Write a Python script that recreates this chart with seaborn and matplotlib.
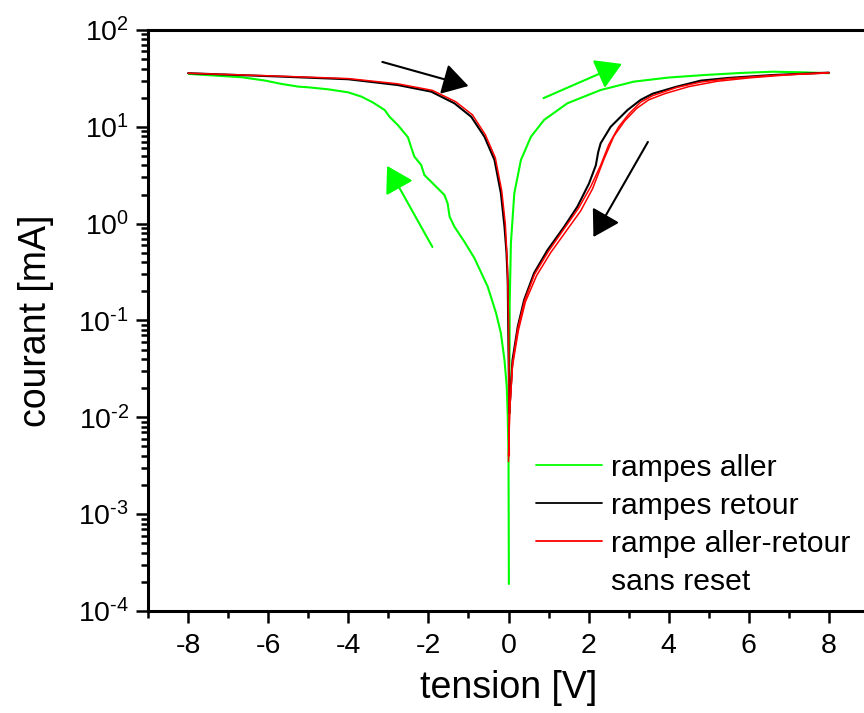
import matplotlib
matplotlib.use("Agg")
import matplotlib.pyplot as plt
import matplotlib.ticker as mticker
from matplotlib.lines import Line2D
import numpy as np
import pandas as pd
import seaborn as sns

# ---------------- data ----------------
# rampes aller (green)
green_left_x = [-7.98, -7.32, -6.65, -6.07, -5.66, -5.24, -5.0, -4.5, -4.0, -3.67, -3.38,
                -3.09, -2.97, -2.76, -2.51, -2.43, -2.35, -2.18, -2.10, -1.85, -1.60, -1.52,
                -1.47, -1.35, -1.10, -0.85, -0.52, -0.31, -0.19, -0.10, -0.045, -0.02, 0.0, 0.01]
green_left_y = [35.2, 33.8, 32.5, 30.0, 27.7, 26.0, 25.6, 24.4, 22.7, 20.5, 17.8,
                14.9, 12.7, 10.4, 7.8, 6.15, 4.92, 4.04, 3.18, 2.51, 1.98, 1.62,
                1.18, 0.93, 0.65, 0.44, 0.224, 0.119, 0.074, 0.039, 0.021, 0.011, 0.004, 0.00019]
green_right_x = [0.02, 0.03, 0.06, 0.145, 0.31, 0.56, 0.89, 1.47, 2.3, 3.13, 4.0, 4.9, 5.8, 6.6, 7.3, 8.0]
green_right_y = [0.011, 0.15, 0.63, 2.06, 4.55, 7.9, 11.8, 17.5, 24.0, 29.3, 32.3, 34.3, 36.0, 37.1, 36.6, 35.8]

# rampes retour (black)
black_left_x = [-8.0, -5.66, -4.0, -2.76, -1.93, -1.35, -0.93, -0.6, -0.35, -0.19, -0.10, -0.05, -0.02, 0.0, 0.02]
black_left_y = [35.8, 33.0, 31.0, 27.0, 23.1, 17.5, 12.7, 7.9, 4.55, 2.06, 0.93, 0.5, 0.26, 0.05, 0.011]
black_right_x = [0.02, 0.1, 0.23, 0.39, 0.64, 0.975, 1.39, 1.72, 2.01, 2.18, 2.24, 2.3, 2.55, 2.97,
                 3.3, 3.6, 4.2, 4.8, 5.5, 6.6, 8.0]
black_right_y = [0.011, 0.039, 0.086, 0.163, 0.31, 0.535, 0.93, 1.5, 2.6, 4.0, 5.5, 6.76, 10.0, 14.9,
                 19.0, 22.0, 26.0, 30.0, 32.0, 34.3, 36.3]

# rampe aller-retour sans reset (red)
red_left_x = [-8.0, -5.66, -4.0, -2.76, -1.9, -1.32, -0.9, -0.58, -0.33, -0.17, -0.08, -0.03, 0.0, 0.02]
red_left_y = [35.8, 33.3, 31.5, 27.8, 23.8, 18.2, 13.3, 8.3, 4.8, 2.2, 1.0, 0.4, 0.1, 0.004]
red_a_x = [0.0, 0.03, 0.1, 0.23, 0.4, 0.65, 1.0, 1.4, 1.75, 2.05, 2.3, 2.5, 2.75, 3.0, 3.3, 3.6,
           4.2, 4.8, 5.5, 6.6, 8.0]
red_a_y = [0.0035, 0.012, 0.036, 0.082, 0.16, 0.30, 0.52, 0.90, 1.45, 2.4, 4.0, 6.5, 10.0, 13.5, 18.0, 21.0,
           25.5, 29.0, 31.5, 34.0, 36.3]
red_b_x = [0.0, 0.03, 0.1, 0.25, 0.42, 0.7, 1.05, 1.45, 1.8, 2.1, 2.38, 2.63, 2.9, 3.2, 3.5, 3.9,
           4.5, 5.2, 6.0, 7.0, 8.0]
red_b_y = [0.004, 0.012, 0.034, 0.08, 0.155, 0.29, 0.50, 0.85, 1.35, 2.3, 4.6, 8.0, 11.5, 15.5, 19.0, 22.0,
           26.0, 29.5, 32.0, 34.5, 36.0]

series_labels = ["rampes aller", "rampes retour", "rampe aller-retour"]
extra_label = "sans reset"

# annotation arrows (start x, start y, end x, end y)
arrows_black = [(-3.15, 46.8, -1.0, 26.4), (3.48, 6.98, 2.12, 0.728)]
arrows_green = [(0.875, 19.8, 2.83, 44.6), (-1.9, 0.575, -3.03, 3.95)]

x_ticks = [-8, -6, -4, -2, 0, 2, 4, 6, 8]
y_ticks = [1e-4, 1e-3, 1e-2, 1e-1, 1e0, 1e1, 1e2]
y_tick_labels = [r"$10^{\text{-4}}$", r"$10^{\text{-3}}$", r"$10^{\text{-2}}$", r"$10^{\text{-1}}$",
                 r"$10^{0}$", r"$10^{1}$", r"$10^{2}$"]

# ---------------- build table ----------------
frames = []
def add(xs, ys, serie, seg):
    frames.append(pd.DataFrame({"x": xs, "y": ys, "serie": serie, "seg": seg}))

add(green_left_x, green_left_y, series_labels[0], "g1")
add(green_right_x, green_right_y, series_labels[0], "g2")
add(black_left_x, black_left_y, series_labels[1], "b1")
add(black_right_x, black_right_y, series_labels[1], "b2")
add(red_left_x, red_left_y, series_labels[2], "r1")
add(red_a_x, red_a_y, series_labels[2], "r2")
add(red_b_x, red_b_y, series_labels[2], "r3")
df = pd.concat(frames, ignore_index=True)

GREEN = "#00ff00"
RED = "#ff0000"
palette = {series_labels[0]: GREEN, series_labels[1]: "black", series_labels[2]: RED}

# ---------------- style ----------------
sns.set_theme(style="white")
plt.rcParams["font.family"] = ["Liberation Sans", "DejaVu Sans"]
plt.rcParams["axes.unicode_minus"] = False
plt.rcParams["text.color"] = "black"
plt.rcParams["axes.labelcolor"] = "black"
plt.rcParams["xtick.color"] = "black"
plt.rcParams["ytick.color"] = "black"
plt.rcParams["mathtext.fontset"] = "custom"
plt.rcParams["mathtext.rm"] = "Liberation Sans"
plt.rcParams["mathtext.it"] = "Liberation Sans:italic"
plt.rcParams["mathtext.bf"] = "Liberation Sans:bold"
plt.rcParams["mathtext.sf"] = "Liberation Sans"

fig = plt.figure(figsize=(8.64, 7.13), dpi=100)
ax = fig.add_axes([148 / 864, 1 - 611 / 713, (869 - 148) / 864, (611 - 30) / 713])

sns.lineplot(data=df, x="x", y="y", hue="serie", units="seg", estimator=None, sort=False,
             palette=palette, hue_order=series_labels, linewidth=1.5, ax=ax, legend=True)
for line in ax.get_lines():
    if matplotlib.colors.to_hex(line.get_color()) == RED:
        line.set_linewidth(1.1)

ax.set_yscale("log")
ax.set_xlim(-9, 9)
ax.set_ylim(1e-4, 1e2)
ax.set_xticks(x_ticks)
ax.set_xticklabels([str(v) for v in x_ticks])
ax.xaxis.set_minor_locator(mticker.MultipleLocator(1))
ax.set_yticks(y_ticks)
ax.set_yticklabels(y_tick_labels)
ax.yaxis.set_minor_locator(mticker.LogLocator(base=10, subs=np.arange(2, 10), numticks=20))
ax.yaxis.set_minor_formatter(mticker.NullFormatter())
ax.set_ylim(1e-4, 1e2)

for s in ["left", "bottom", "top", "right"]:
    ax.spines[s].set_linewidth(2.2)
    ax.spines[s].set_color("black")
ax.tick_params(which="major", direction="out", length=8.6, width=1.8, labelsize=20.5,
               colors="black", labelcolor="black", top=False, right=False, left=True, bottom=True)
ax.tick_params(axis="x", which="major", pad=7)
ax.tick_params(axis="y", which="major", pad=5)
ax.tick_params(which="minor", direction="out", length=5, width=1.8, top=False, right=False,
               left=True, bottom=True, colors="black")

ax.set_xlabel("tension [V]", fontsize=27, labelpad=8, color="black")
ax.set_ylabel("courant [mA]", fontsize=27, labelpad=17, color="black")

# arrows
def draw_arrow(x0, y0, x1, y1, color):
    ax.annotate("", xy=(x1, y1), xytext=(x0, y0),
                arrowprops=dict(arrowstyle="-|>,head_length=0.8,head_width=0.48",
                                mutation_scale=20, color=color, lw=1.5,
                                shrinkA=0, shrinkB=0))

for a in arrows_black:
    draw_arrow(*a, "black")
for a in arrows_green:
    draw_arrow(*a, GREEN)

# legend
handles, labels = ax.get_legend_handles_labels()
handles = list(handles) + [Line2D([], [], color="none")]
labels = list(labels) + [extra_label]
for h in handles[:3]:
    h.set_linewidth(1.3)
leg = ax.legend(handles, labels, loc="upper left", frameon=False, fontsize=21.7,
                handlelength=2.2, handletextpad=0.3, labelspacing=0.33, borderpad=0,
                borderaxespad=0, bbox_to_anchor=(536 / 864, 1 - 454 / 713),
                bbox_transform=fig.transFigure)
for t in leg.get_texts():
    t.set_color("black")

fig.savefig("out.png", dpi=100)
